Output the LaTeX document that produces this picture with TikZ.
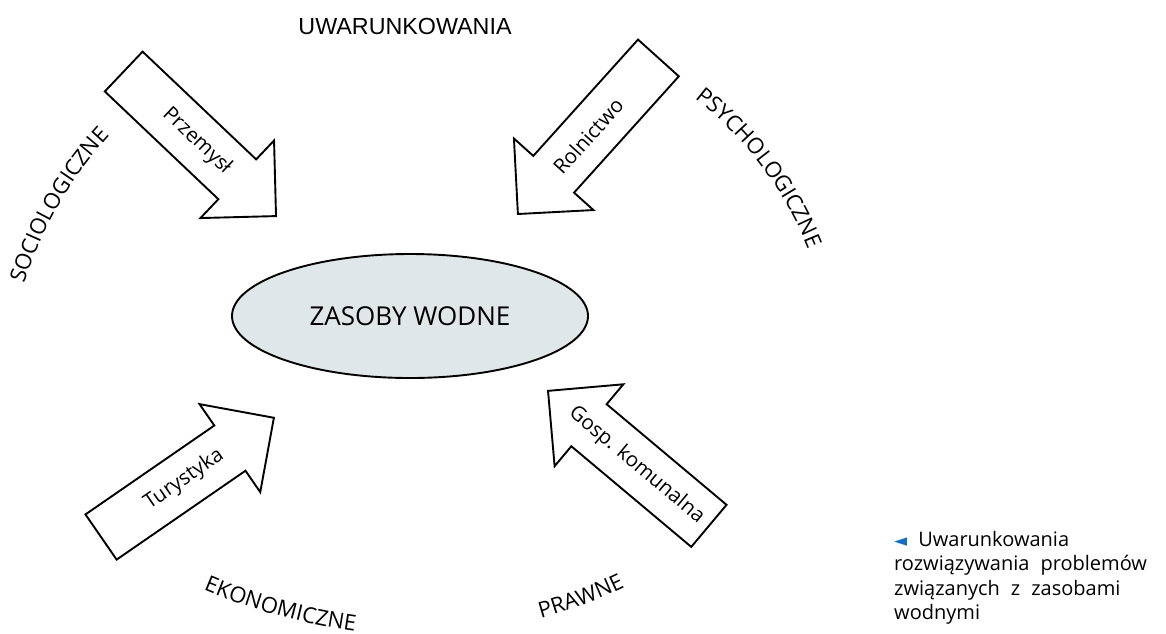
\documentclass[tikz,border=0pt]{standalone}
\usepackage{fontspec}
\setmainfont{Open Sans}
\newfontfamily\arialfont{Liberation Sans}
\newfontfamily\znakfont{DejaVu Sans}
\usetikzlibrary{shapes.arrows,shapes.geometric,decorations.text,calc}
\definecolor{wodny}{RGB}{223,231,232}
\definecolor{niebieski}{RGB}{20,110,190}
\newcommand{\luk}{\fontsize{22}{26}\selectfont}
\newcommand{\opisfont}{\fontsize{20}{24.3}\selectfont\spaceskip=11pt\relax}

\begin{document}
\begin{tikzpicture}[x=1pt,y=-1pt,
  strzalka/.style={draw,line width=1.9pt,single arrow,single arrow tip angle=90,
    single arrow head extend=26pt,minimum width=105pt,minimum height=210pt,
    text height=26.5pt,text depth=26.5pt,inner sep=0pt,anchor=tip},
  etykieta/.style={inner sep=0pt,font=\fontsize{20.5}{24}\selectfont},
  napis/.style={decoration={text along path,text align=center,text={|\luk|#1}},decorate}]
\useasboundingbox (0,0) rectangle (1166,633);

\node (UW) at (405,26) [font=\arialfont\fontsize{23.3}{28}\selectfont] {UWARUNKOWANIA};
\node (ZW) at (410,316) [ellipse,draw,line width=1.9pt,fill=wodny,minimum width=356pt,minimum height=124pt,font=\fontsize{26}{30}\selectfont] {ZASOBY WODNE};

\node (PRZ) at (277,217) [strzalka,rotate=-43.5] {};
\node (ROL) at (517,215) [strzalka,shape border rotate=180,rotate=48] {};
\node (TUR) at (275,417) [strzalka,rotate=34.6] {};
\node (GOS) at (547,390) [strzalka,shape border rotate=180,rotate=-40] {};

\node (PRZt) at ($(PRZ.tip)!0.52!(PRZ.tail)$) [etykieta,rotate=-43.5] {Przemysł};
\node (ROLt) at ($(ROL.tip)!0.5!(ROL.tail)$) [etykieta,rotate=48] {Rolnictwo};
\node (TURt) at ($(TUR.tip)!0.52!(TUR.tail)$) [etykieta,rotate=34.6] {Turystyka};
\node (GOSt) at ($(GOS.tip)!0.55!(GOS.tail)$) [etykieta,rotate=-40] {Gosp. komunalna};

\path [napis=SOCIOLOGICZNE] (393,398) ++(-170:386) arc [start angle=-170,end angle=-130,radius=386];
\path [napis=PSYCHOLOGICZNE] (478,380) ++(-59:355) arc [start angle=-59,end angle=-15,radius=355];
\path [napis=EKONOMICZNE] (436,45) ++(117.5:592) arc [start angle=117.5,end angle=93.5,radius=592];
\path [napis=PRAWNE] (405,127) ++(81.5:510) arc [start angle=81.5,end angle=57.5,radius=510];

\node (OPIS) at (894,531) [anchor=north west,align=left,inner sep=0pt,font=\opisfont] {{\znakfont\fontsize{17}{17}\selectfont\textcolor{niebieski}{◄}} Uwarunkowania\\rozwiązywania problemów\\związanych z zasobami\\wodnymi};

\end{tikzpicture}
\end{document}
